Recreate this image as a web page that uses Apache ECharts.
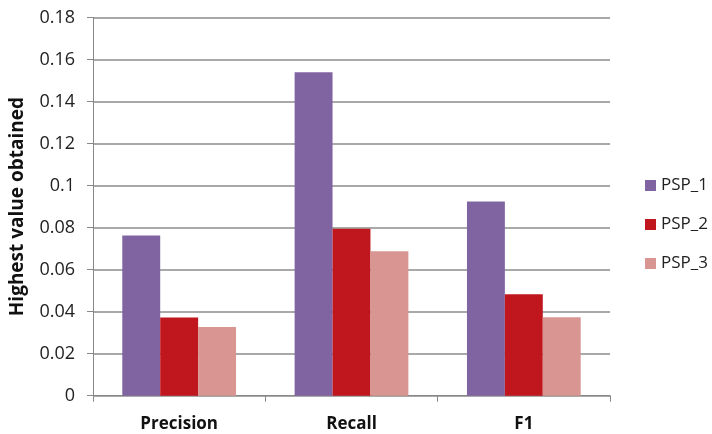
<!DOCTYPE html>
<html>
<head>
<meta charset="utf-8">
<script src="https://cdn.jsdelivr.net/npm/echarts@6/dist/echarts.min.js"></script>
<style>
  html, body { margin: 0; padding: 0; background: #fff; }
  #chart { width: 712px; height: 434px; }
</style>
</head>
<body>
<div id="chart"></div>
<script>
// Categories and per-series values
const categories = ['Precision', 'Recall', 'F1'];
const seriesNames = ['PSP_1', 'PSP_2', 'PSP_3'];
const psp1 = [0.0762, 0.154, 0.0924];
const psp2 = [0.0372, 0.0795, 0.0483];
const psp3 = [0.0327, 0.0688, 0.0373];
const yTicks = { min: 0, max: 0.18, interval: 0.02 };
const colors = ['#8064A2', '#C0171E', '#D99592'];

const font = '"Open Sans", "Liberation Sans", sans-serif';
const chart = echarts.init(document.getElementById('chart'), null, { renderer: 'canvas' });

const values = [psp1, psp2, psp3];
chart.setOption({
  animation: false,
  color: colors,
  grid: { left: 91, right: 102, top: 17.5, bottom: 38.3, containLabel: false },
  legend: {
    orient: 'vertical',
    left: 640,
    top: 172,
    itemWidth: 11,
    itemHeight: 11,
    itemGap: 22,
    icon: 'rect',
    textStyle: { fontFamily: font, fontSize: 17, color: '#222' },
    data: seriesNames
  },
  xAxis: {
    type: 'category',
    data: categories,
    axisLine: { lineStyle: { color: '#888', width: 1 } },
    axisTick: { show: true, length: 6, lineStyle: { color: '#888' } },
    axisLabel: { fontFamily: font, fontSize: 17, fontWeight: 'bold', color: '#111', margin: 20 }
  },
  yAxis: {
    type: 'value',
    min: yTicks.min,
    max: yTicks.max,
    interval: yTicks.interval,
    name: 'Highest value obtained',
    nameLocation: 'middle',
    nameGap: 66,
    nameRotate: 90,
    nameTextStyle: { fontFamily: font, fontSize: 19, fontWeight: 'bold', color: '#111' },
    axisLine: { show: true, lineStyle: { color: '#888', width: 1 } },
    axisTick: { show: true, length: 6, lineStyle: { color: '#888' } },
    splitLine: { lineStyle: { color: '#8c8c8c', width: 1.5 } },
    axisLabel: {
      fontFamily: font, fontSize: 18, color: '#222', margin: 18,
      formatter: v => String(parseFloat(v.toFixed(2)))
    }
  },
  series: seriesNames.map((name, i) => ({
    name,
    type: 'bar',
    data: values[i],
    barGap: '0%',
    barCategoryGap: '34%',
    itemStyle: { color: colors[i] }
  }))
});
</script>
</body>
</html>
